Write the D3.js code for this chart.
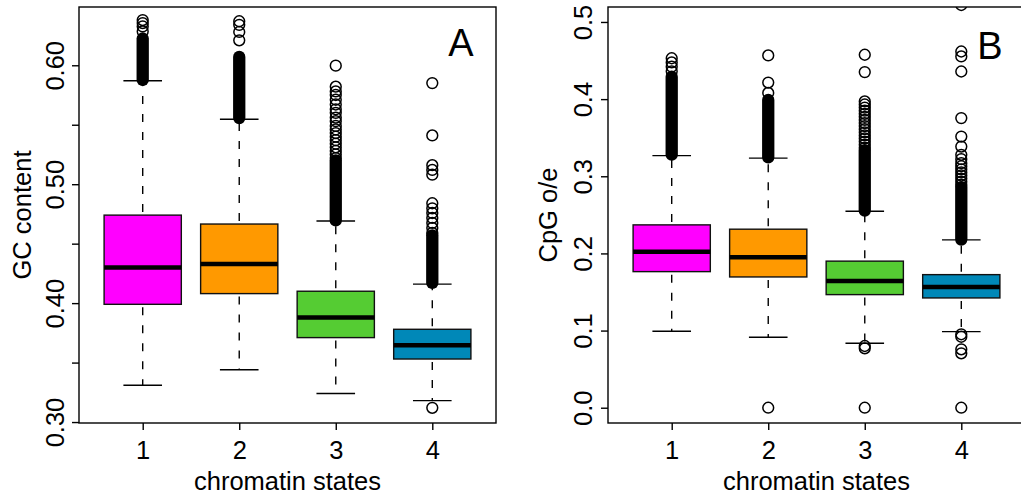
<!DOCTYPE html>
<html>
<head>
<meta charset="utf-8">
<script src="https://cdn.jsdelivr.net/npm/d3@7"></script>
<style>
  html, body { margin: 0; padding: 0; background: #fff; }
  svg { display: block; }
  text { font-family: "Liberation Sans", Arial, Helvetica, sans-serif; fill: #000; }
</style>
</head>
<body>
<svg id="chart" width="1021" height="503"></svg>
<script>
// ---------------- data ----------------
const categories = [1, 2, 3, 4];
const fillColors = ["#ff00ff", "#ff9900", "#55cc33", "#0088b8"];

// Panel A: GC content
const gcLowerWhisker = [0.331, 0.344, 0.324, 0.318];
const gcQ1           = [0.399, 0.408, 0.371, 0.353];
const gcMedian       = [0.430, 0.433, 0.388, 0.3645];
const gcQ3           = [0.474, 0.4665, 0.410, 0.378];
const gcUpperWhisker = [0.587, 0.5546, 0.469, 0.416];
const gcOutliers = [
  [0.638, 0.6355, 0.6327, 0.6285],
  [0.637, 0.634, 0.628, 0.621],
  [0.5997, 0.582, 0.578, 0.575, 0.571, 0.567, 0.563, 0.560, 0.556, 0.553, 0.549, 0.546,
   0.543, 0.540, 0.537, 0.534, 0.531, 0.528, 0.525, 0.522],
  [0.585, 0.541, 0.516, 0.512, 0.508, 0.484, 0.4797, 0.4758, 0.4716, 0.4674, 0.4632, 0.459, 0.312]
];
// runs of outliers so dense that single points cannot be read: [low, high]
const gcDenseOutliers = [[0.5876, 0.6225], [0.5556, 0.607], [0.4695, 0.520], [0.417, 0.457]];
const gcTicks = [0.30, 0.35, 0.40, 0.45, 0.50, 0.55, 0.60];
const gcTickLabels = ["0.30", "", "0.40", "", "0.50", "", "0.60"];

// Panel B: CpG o/e
const cpgLowerWhisker = [0.0991, 0.0913, 0.0835, 0.0986];
const cpgQ1           = [0.1764, 0.1695, 0.1466, 0.1423];
const cpgMedian       = [0.2023, 0.195, 0.1643, 0.1565];
const cpgQ3           = [0.237, 0.2314, 0.190, 0.1725];
const cpgUpperWhisker = [0.3268, 0.3235, 0.2547, 0.2175];
const cpgOutliers = [
  [0.453, 0.4475, 0.442, 0.436],
  [0.4566, 0.4215, 0.408, 0.0],
  [0.4575, 0.435, 0.397, 0.393, 0.389, 0.385, 0.381, 0.377, 0.373, 0.369, 0.365, 0.361,
   0.357, 0.353, 0.349, 0.345, 0.341, 0.337, 0.080, 0.077, 0.0],
  [0.522, 0.4617, 0.4553, 0.4358, 0.3754, 0.3515, 0.3385, 0.3278, 0.3222, 0.317,
   0.313, 0.309, 0.305, 0.301, 0.297, 0.293, 0.289, 0.0952, 0.092, 0.0757, 0.0705, 0.0]
];
const cpgDenseOutliers = [[0.328, 0.429], [0.3245, 0.399], [0.2555, 0.334], [0.218, 0.286]];
const cpgTicks = [0.0, 0.1, 0.2, 0.3, 0.4, 0.5];
const cpgTickLabels = ["0.0", "0.1", "0.2", "0.3", "0.4", "0.5"];

const xLabel = "chromatin states";

// ---------------- drawing ----------------
const svg = d3.select("#chart");
svg.append("rect").attr("width", 1021).attr("height", 503).attr("fill", "#fff");

const R = 5.4, SW = 1.5, FS = "25.5px";

function drawPanel(o) {
  const x = d3.scaleLinear().domain([0.34, 4.66]).range([o.left, o.right]);
  const y = d3.scaleLinear().domain(o.yDomain).range([o.bottom, o.top]);
  const g = svg.append("g");

  const clipId = "clip" + o.id;
  svg.append("clipPath").attr("id", clipId)
    .append("rect").attr("x", o.left).attr("y", o.top)
    .attr("width", o.right - o.left).attr("height", o.bottom - o.top);

  const plot = g.append("g").attr("clip-path", `url(#${clipId})`);
  const bw = x(1.4) - x(1);   // half box width
  const sw = x(1.2) - x(1);   // half staple width

  categories.forEach((c, i) => {
    const cx = x(c);
    // whiskers (dashed)
    [[o.q1[i], o.lw[i]], [o.q3[i], o.uw[i]]].forEach(([a, b]) => {
      plot.append("line")
        .attr("x1", cx).attr("x2", cx).attr("y1", y(a)).attr("y2", y(b))
        .attr("stroke", "#000").attr("stroke-width", 1.4)
        .attr("stroke-dasharray", "8 10").attr("stroke-dashoffset", 15);
    });
    // staples
    [o.lw[i], o.uw[i]].forEach(v => {
      plot.append("line")
        .attr("x1", cx - sw).attr("x2", cx + sw).attr("y1", y(v)).attr("y2", y(v))
        .attr("stroke", "#000").attr("stroke-width", 1.4);
    });
    // box
    plot.append("rect")
      .attr("x", cx - bw).attr("width", 2 * bw)
      .attr("y", y(o.q3[i])).attr("height", y(o.q1[i]) - y(o.q3[i]))
      .attr("fill", fillColors[i]).attr("stroke", "#111").attr("stroke-width", 1.4);
    // median
    plot.append("line")
      .attr("x1", cx - bw).attr("x2", cx + bw).attr("y1", y(o.med[i])).attr("y2", y(o.med[i]))
      .attr("stroke", "#000").attr("stroke-width", 4.5);
    // dense outlier run
    const d = o.dense[i];
    const ext = R + SW / 2;
    plot.append("rect")
      .attr("x", cx - ext).attr("width", 2 * ext)
      .attr("y", y(d[1]) - ext).attr("height", y(d[0]) - y(d[1]) + 2 * ext)
      .attr("rx", ext).attr("ry", ext)
      .attr("fill", "#000");
    // individual outliers
    plot.selectAll(null).data(o.out[i]).enter().append("circle")
      .attr("cx", cx).attr("cy", v => y(v)).attr("r", R)
      .attr("fill", "none").attr("stroke", "#000").attr("stroke-width", SW);
  });

  // y axis
  const yAxis = d3.axisLeft(y).tickValues(o.ticks).tickSize(7).tickFormat((v, k) => o.tickLabels[k]);
  const ya = g.append("g").attr("transform", `translate(${o.left},0)`).call(yAxis);
  ya.select(".domain").remove();
  ya.selectAll(".tick line").attr("stroke", "#000").attr("stroke-width", 1.4);
  ya.selectAll(".tick text")
    .attr("x", null).attr("dy", null)
    .attr("transform", `translate(${o.yTickOffset},0) rotate(-90)`)
    .attr("text-anchor", "middle")
    .style("font-size", FS).style("font-family", "Liberation Sans, Arial, sans-serif");

  // x axis
  const xAxis = d3.axisBottom(x).tickValues(categories).tickSize(7).tickFormat(d3.format("d"));
  const xa = g.append("g").attr("transform", `translate(0,${o.bottom})`).call(xAxis);
  xa.select(".domain").remove();
  xa.selectAll(".tick line").attr("stroke", "#000").attr("stroke-width", 1.4);
  xa.selectAll(".tick text")
    .attr("y", 35.5).attr("dy", null)
    .attr("text-anchor", "middle")
    .style("font-size", FS).style("font-family", "Liberation Sans, Arial, sans-serif");

  // frame
  g.append("rect")
    .attr("x", o.left).attr("y", o.top)
    .attr("width", o.right - o.left).attr("height", o.bottom - o.top)
    .attr("fill", "none").attr("stroke", "#000").attr("stroke-width", 1.4);

  // axis titles
  g.append("text")
    .attr("transform", `translate(${o.left + o.yLabelOffset},${(o.top + o.bottom) / 2}) rotate(-90)`)
    .attr("text-anchor", "middle").style("font-size", FS)
    .text(o.ylabel);
  g.append("text")
    .attr("x", (o.left + o.right) / 2).attr("y", o.bottom + 67)
    .attr("text-anchor", "middle").style("font-size", FS)
    .text(xLabel);

  // panel tag
  g.append("text")
    .attr("x", o.tagX).attr("y", o.tagY)
    .attr("text-anchor", "middle").style("font-size", "38px")
    .text(o.tag);
}

drawPanel({
  id: "A", left: 79, right: 496, top: 7, bottom: 423,
  yDomain: [0.2992, 0.6490],
  lw: gcLowerWhisker, q1: gcQ1, med: gcMedian, q3: gcQ3, uw: gcUpperWhisker,
  out: gcOutliers, dense: gcDenseOutliers,
  ticks: gcTicks, tickLabels: gcTickLabels,
  yTickOffset: -15, yLabelOffset: -48,
  ylabel: "GC content", tag: "A", tagX: 461, tagY: 56
});

drawPanel({
  id: "B", left: 608, right: 1025, top: 7, bottom: 423,
  yDomain: [-0.0198, 0.5194],
  lw: cpgLowerWhisker, q1: cpgQ1, med: cpgMedian, q3: cpgQ3, uw: cpgUpperWhisker,
  out: cpgOutliers, dense: cpgDenseOutliers,
  ticks: cpgTicks, tickLabels: cpgTickLabels,
  yTickOffset: -16, yLabelOffset: -51,
  ylabel: "CpG o/e", tag: "B", tagX: 990, tagY: 59
});
</script>
</body>
</html>
